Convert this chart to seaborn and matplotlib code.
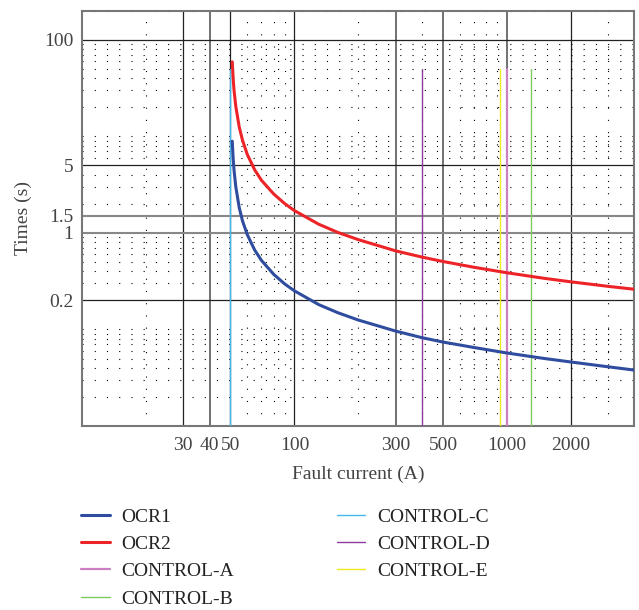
import numpy as np
import pandas as pd
import seaborn as sns
import matplotlib.pyplot as plt
from matplotlib.ticker import FixedLocator, LogLocator, NullFormatter, FuncFormatter

# --- data ---
ocr_current = [51, 51.5, 52, 53, 55, 57, 60, 65, 70, 80, 90, 100, 130, 160, 200,
               300, 400, 500, 700, 1000, 1500, 2000, 3000, 3950]
ocr1_time = [8.9, 5.9, 4.46, 3.0, 1.83, 1.33, 0.96, 0.665, 0.518, 0.371, 0.296, 0.251,
             0.181, 0.149, 0.125, 0.096, 0.082, 0.074, 0.065, 0.057, 0.050, 0.046,
             0.041, 0.038]
ocr2_time = [59, 40, 30, 20.4, 12.5, 9.1, 6.5, 4.5, 3.5, 2.52, 2.01, 1.70, 1.23,
             1.01, 0.85, 0.65, 0.56, 0.505, 0.44, 0.386, 0.338, 0.311, 0.279, 0.261]

control_names = ['CONTROL-A', 'CONTROL-B', 'CONTROL-C', 'CONTROL-D', 'CONTROL-E']
control_current = [1005, 1300, 50, 400, 925]
control_span = [0.01, 50]

x_ticks = [30, 40, 50, 100, 300, 500, 1000, 2000]
y_ticks = [0.2, 1, 1.5, 5, 100]

colors = {
    'OCR1': '#2f4c9f',
    'OCR2': '#ec2327',
    'CONTROL-A': '#cc7fc0',
    'CONTROL-B': '#7fcb5e',
    'CONTROL-C': '#45b8ea',
    'CONTROL-D': '#8e3a9e',
    'CONTROL-E': '#f2ea1d',
}

sns.set_style('white')
plt.rcParams['font.family'] = ['Liberation Serif', 'DejaVu Serif']

fig = plt.figure(figsize=(6.39, 6.10), dpi=100)
ax = fig.add_axes([0.128, 0.3016, 0.864, 0.681])

# relay curves
sns.lineplot(x=ocr_current, y=ocr1_time, color=colors['OCR1'], lw=2.2,
             label='OCR1', estimator=None, sort=False, ax=ax, zorder=5)
sns.lineplot(x=ocr_current, y=ocr2_time, color=colors['OCR2'], lw=2.2,
             label='OCR2', estimator=None, sort=False, ax=ax, zorder=5)

# control lines (vertical)
ctrl = pd.DataFrame({
    'name': np.repeat(control_names, 2),
    'current': np.repeat(control_current, 2),
    'time': control_span * len(control_names),
})
for name in control_names:
    d = ctrl[ctrl['name'] == name]
    sns.lineplot(data=d, x='current', y='time', color=colors[name],
                 lw=1.6 if name == 'CONTROL-A' else 1.0, label=name,
                 estimator=None, sort=False, ax=ax, zorder=4)

ax.set_xscale('log')
ax.set_yscale('log')
ax.set_xlim(10, 3950)
ax.set_ylim(0.01, 200)

fmt = FuncFormatter(lambda v, p: '%g' % v)
ax.xaxis.set_major_locator(FixedLocator(x_ticks))
ax.xaxis.set_major_formatter(fmt)
ax.yaxis.set_major_locator(FixedLocator(y_ticks))
ax.yaxis.set_major_formatter(fmt)
ax.xaxis.set_minor_locator(LogLocator(base=10, subs=np.arange(2, 10)))
ax.yaxis.set_minor_locator(LogLocator(base=10, subs=np.arange(1, 10)))
ax.xaxis.set_minor_formatter(NullFormatter())
ax.yaxis.set_minor_formatter(NullFormatter())

ax.tick_params(which='both', length=0, labelsize=14, labelcolor='#444444')
ax.tick_params(axis='x', pad=8)
ax.tick_params(axis='y', pad=6)

ax.grid(which='major', color='#222222', lw=0.9, zorder=1)
ax.grid(which='minor', color='black', lw=0.8, linestyle=(0, (1, 10)), zorder=1)
ax.set_axisbelow(True)

# a few of the major grid lines are lighter/heavier in the reference
for i, gl in enumerate(ax.yaxis.get_gridlines()):
    if y_ticks[i] in (1, 1.5):
        gl.set_color('#888888')
        gl.set_linewidth(1.5)
for i, gl in enumerate(ax.xaxis.get_gridlines()):
    if x_ticks[i] in (40, 300, 500, 1000):
        gl.set_color('#666666')
        gl.set_linewidth(1.3)

for s in ax.spines.values():
    s.set_color('#777777')
    s.set_linewidth(1.5)

ax.set_xlabel('Fault current (A)', fontsize=14, color='#444444', labelpad=8)
ax.set_ylabel('Times (s)', fontsize=14, color='#444444', labelpad=9)

handles, labels = ax.get_legend_handles_labels()
ax.legend_.remove()
fig.legend(handles, labels, loc='upper left', bbox_to_anchor=(0.100, 0.196),
           ncol=2, frameon=False, fontsize=14, handlelength=1.45,
           handletextpad=0.6, columnspacing=5.3, labelspacing=0.5,
           labelcolor='#222222')

plt.savefig('out.png', dpi=100)
